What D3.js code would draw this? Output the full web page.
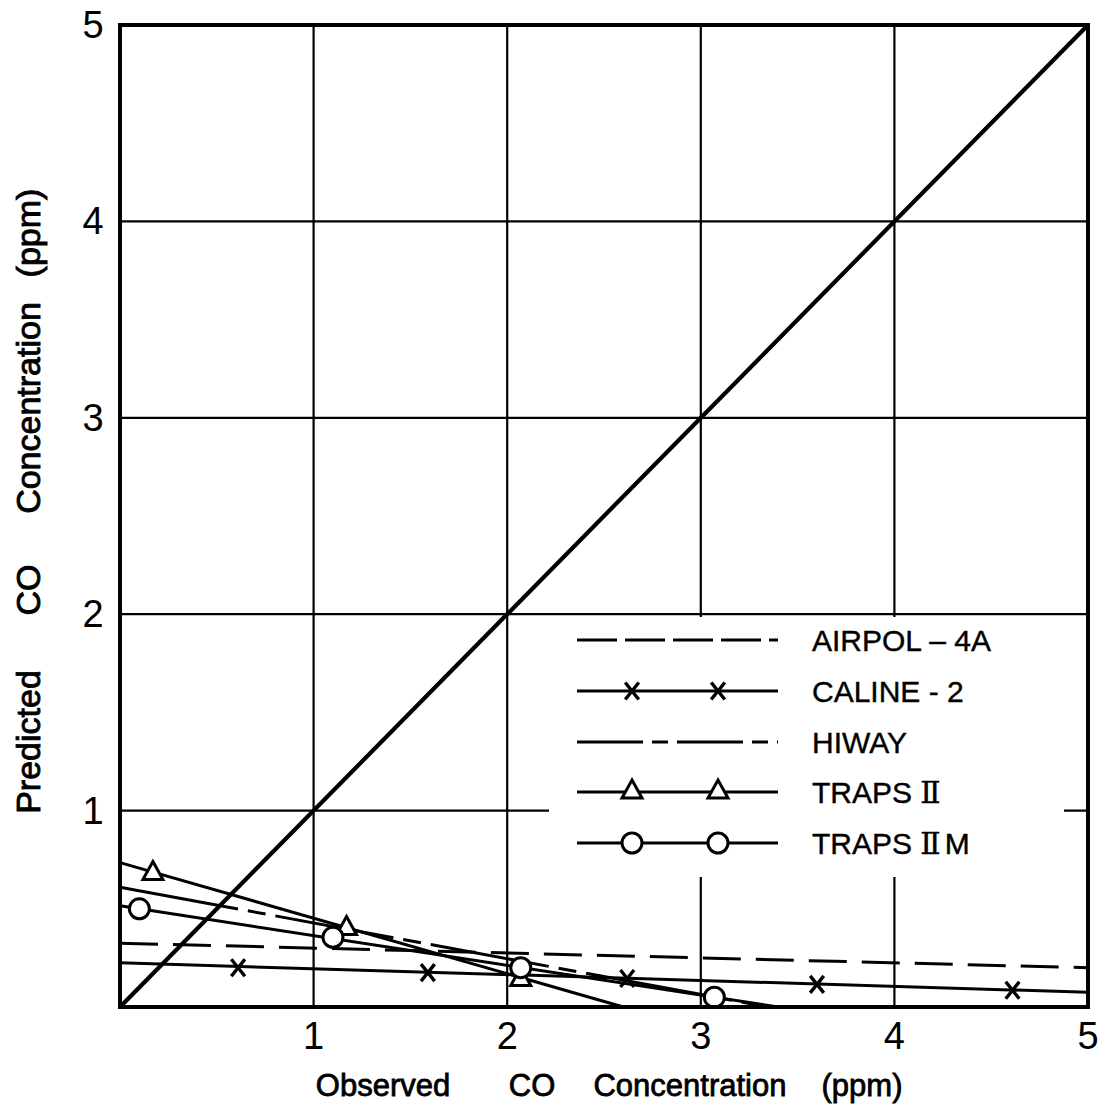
<!DOCTYPE html>
<html>
<head>
<meta charset="utf-8">
<script src="https://cdn.jsdelivr.net/npm/d3@7"></script>
<style>
  html, body { margin: 0; padding: 0; background: #fff; }
  svg { display: block; }
  text { font-family: "Liberation Sans", Arial, sans-serif; fill: #000; }
  .rn { font-family: "DejaVu Serif", "Liberation Serif", serif; }
</style>
</head>
<body>
<svg id="chart" width="1099" height="1116"></svg>
<script>
// ---- data ----
const xTicks = [1, 2, 3, 4, 5];
const yTicks = [1, 2, 3, 4, 5];
const xTitleWords = ["Observed", "CO", "Concentration", "(ppm)"];
const yTitleWords = ["Predicted", "CO", "Concentration", "(ppm)"];
const legendNames = ["AIRPOL \u2013 4A", "CALINE - 2", "HIWAY", "TRAPS \u2161", "TRAPS \u2161M"];

const identityX = [0, 5];
const identityY = [0, 5];

const airpolX = [0, 5];
const airpolY = [0.325, 0.2];

const calineX = [0, 5];
const calineY = [0.225, 0.075];
const calinePtsX = [0.61, 1.59, 2.62, 3.6, 4.61];
const calinePtsY = [0.2, 0.175, 0.145, 0.115, 0.085];

const hiwayX = [0, 3.35];
const hiwayY = [0.61, 0];

const traps2X = [0, 2.6];
const traps2Y = [0.735, 0];
const traps2PtsX = [0.17, 1.17, 2.07];
const traps2PtsY = [0.69, 0.41, 0.15];

const traps2mX = [0, 3.4];
const traps2mY = [0.515, 0];
const traps2mPtsX = [0.1, 1.1, 2.07, 3.07];
const traps2mPtsY = [0.5, 0.355, 0.2, 0.05];

// ---- drawing ----
const svg = d3.select("#chart");
const x = d3.scaleLinear().domain([0, 5]).range([120, 1088]);
const y = d3.scaleLinear().domain([0, 5]).range([1007, 25]);
const zip = (xs, ys) => xs.map((v, i) => [v, ys[i]]);
const line = d3.line().x(d => x(d[0])).y(d => y(d[1]));

// grid
const grid = svg.append("g");
grid.selectAll("line.v").data(xTicks.slice(0, -1)).join("line")
  .attr("x1", d => x(d)).attr("x2", d => x(d))
  .attr("y1", y(0)).attr("y2", y(5))
  .attr("stroke", "#000").attr("stroke-width", 2.2);
grid.selectAll("line.h").data(yTicks.slice(0, -1)).join("line")
  .attr("y1", d => y(d)).attr("y2", d => y(d))
  .attr("x1", x(0)).attr("x2", x(5))
  .attr("stroke", "#000").attr("stroke-width", 2.2);

// legend background (interrupts the grid)
const lgX = 549, lgY = 617, lgW = 515, lgH = 260;
svg.append("rect").attr("x", lgX).attr("y", lgY).attr("width", lgW).attr("height", lgH).attr("fill", "#fff");

// series
const lines = svg.append("g").attr("fill", "none").attr("stroke", "#000");
lines.append("path").attr("d", line(zip(identityX, identityY))).attr("stroke-width", 4.2);
lines.append("path").attr("d", line(zip(airpolX, airpolY))).attr("stroke-width", 3).attr("stroke-dasharray", "38,15");
lines.append("path").attr("d", line(zip(calineX, calineY))).attr("stroke-width", 3);
lines.append("path").attr("d", line(zip(hiwayX, hiwayY))).attr("stroke-width", 3).attr("stroke-dasharray", "120,10,18,10");
lines.append("path").attr("d", line(zip(traps2X, traps2Y))).attr("stroke-width", 3);
lines.append("path").attr("d", line(zip(traps2mX, traps2mY))).attr("stroke-width", 3);

// marker helpers
function drawX(g, cx, cy) {
  const s = 8.5;
  g.append("path").attr("d", `M${cx - s * 0.8},${cy - s}L${cx + s * 0.8},${cy + s}M${cx - s * 0.8},${cy + s}L${cx + s * 0.8},${cy - s}`)
    .attr("stroke", "#000").attr("stroke-width", 3.4).attr("fill", "none");
}
function drawTri(g, cx, cy) {
  const s = 10;
  g.append("path").attr("d", `M${cx},${cy - s}L${cx + s},${cy + s * 0.8}L${cx - s},${cy + s * 0.8}Z`)
    .attr("stroke", "#000").attr("stroke-width", 3).attr("fill", "#fff");
}
function drawCirc(g, cx, cy) {
  g.append("circle").attr("cx", cx).attr("cy", cy).attr("r", 10)
    .attr("stroke", "#000").attr("stroke-width", 3).attr("fill", "#fff");
}
const marks = svg.append("g");
zip(calinePtsX, calinePtsY).forEach(p => drawX(marks, x(p[0]), y(p[1])));
zip(traps2PtsX, traps2PtsY).forEach(p => drawTri(marks, x(p[0]), y(p[1])));
zip(traps2mPtsX, traps2mPtsY).forEach(p => drawCirc(marks, x(p[0]), y(p[1])));

// frame
svg.append("rect").attr("x", x(0)).attr("y", y(5)).attr("width", x(5) - x(0)).attr("height", y(0) - y(5))
  .attr("fill", "none").attr("stroke", "#000").attr("stroke-width", 4);

// legend
const lg = svg.append("g");
const rowY = [640, 691, 742, 792, 843];
const lx0 = 577, lx1 = 778, mk1 = 632, mk2 = 718;
legendNames.forEach((name, i) => {
  const ry = rowY[i];
  const p = lg.append("line").attr("x1", lx0).attr("x2", lx1).attr("y1", ry).attr("y2", ry)
    .attr("stroke", "#000").attr("stroke-width", 3);
  if (i === 0) p.attr("stroke-dasharray", "40,8");
  if (i === 2) p.attr("stroke-dasharray", "66,9,16,9");
  if (i === 1) { drawX(lg, mk1, ry); drawX(lg, mk2, ry); }
  if (i === 3) { drawTri(lg, mk1, ry - 2); drawTri(lg, mk2, ry - 2); }
  if (i === 4) { drawCirc(lg, mk1, ry); drawCirc(lg, mk2, ry); }
  const t = lg.append("text").attr("x", 812).attr("y", ry + 11).attr("font-size", 30)
    .attr("stroke", "#000").attr("stroke-width", 0.4);
  const parts = name.split("\u2161");
  t.append("tspan").text(parts[0]);
  if (parts.length > 1) {
    t.append("tspan").attr("class", "rn").attr("font-size", 30).text("\u2161");
    if (parts[1]) t.append("tspan").attr("dx", 4).text(parts[1]);
  }
});

// tick labels
svg.append("g").selectAll("text").data(xTicks).join("text")
  .attr("x", d => x(d)).attr("y", 1049).attr("text-anchor", "middle").attr("font-size", 38)
  .text(d => d);
svg.append("g").selectAll("text").data(yTicks).join("text")
  .attr("x", 93).attr("y", d => y(d) + 13).attr("text-anchor", "middle").attr("font-size", 38)
  .text(d => d);

// axis titles
const xTitleCx = [383, 532, 690, 862];
svg.append("g").selectAll("text").data(xTitleWords).join("text")
  .attr("x", (d, i) => xTitleCx[i]).attr("y", 1096).attr("text-anchor", "middle").attr("font-size", 31)
  .attr("stroke", "#000").attr("stroke-width", 0.8)
  .text(d => d);
const yTitleCy = [742, 590, 408, 233];
svg.append("g").selectAll("text").data(yTitleWords).join("text")
  .attr("transform", (d, i) => `translate(40,${yTitleCy[i]}) rotate(-90)`)
  .attr("text-anchor", "middle").attr("font-size", 34)
  .attr("stroke", "#000").attr("stroke-width", 0.9)
  .text(d => d);
</script>
</body>
</html>
